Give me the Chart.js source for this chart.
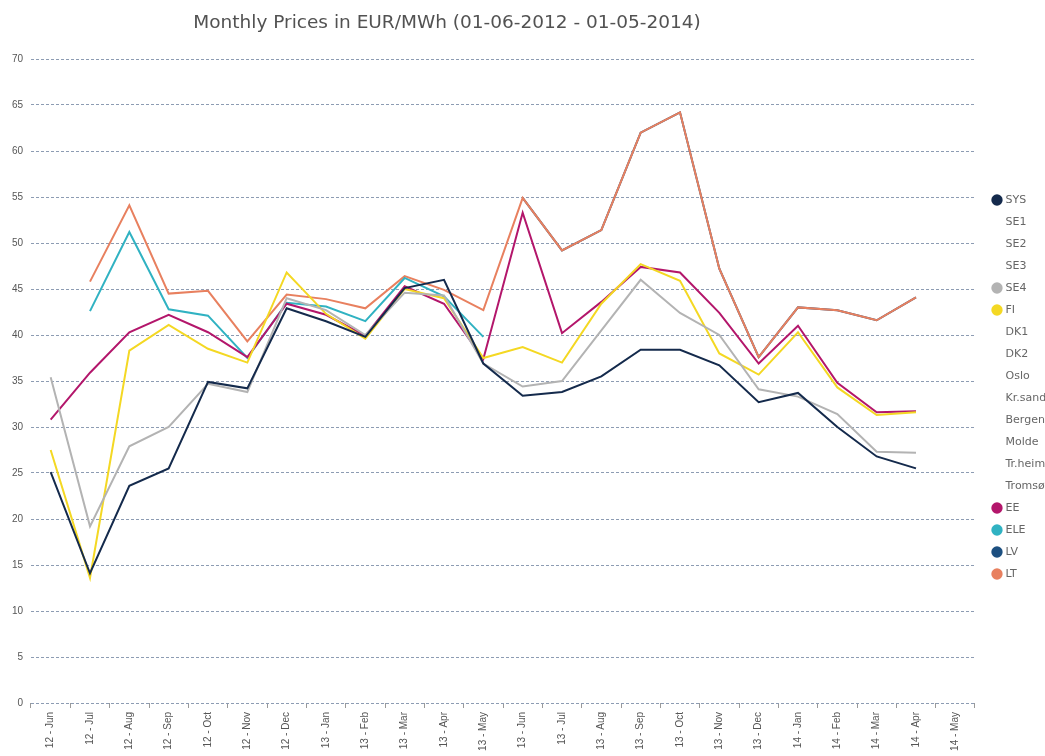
<!DOCTYPE html>
<html>
<head>
<meta charset="utf-8">
<script src="https://cdn.jsdelivr.net/npm/chart.js@4.4.1/dist/chart.umd.min.js"></script>
<style>
  html, body { margin: 0; padding: 0; overflow: hidden; background: #fff; }
</style>
</head>
<body>
<canvas id="prices" width="1045" height="756"></canvas>
<script>
const titleText = 'Monthly Prices in EUR/MWh (01-06-2012 - 01-05-2014)';

const months = ['12 - Jun', '12 - Jul', '12 - Aug', '12 - Sep', '12 - Oct', '12 - Nov', '12 - Dec',
  '13 - Jan', '13 - Feb', '13 - Mar', '13 - Apr', '13 - May', '13 - Jun', '13 - Jul', '13 - Aug',
  '13 - Sep', '13 - Oct', '13 - Nov', '13 - Dec', '14 - Jan', '14 - Feb', '14 - Mar', '14 - Apr', '14 - May'];

const yTicks = [0, 5, 10, 15, 20, 25, 30, 35, 40, 45, 50, 55, 60, 65, 70];

// monthly prices, EUR/MWh
const sys = [25.1, 14.1, 23.6, 25.5, 34.9, 34.2, 42.9, 41.5, 39.8, 45.1, 46.0, 36.9,
  33.4, 33.8, 35.5, 38.4, 38.4, 36.7, 32.7, 33.7, 30.0, 26.8, 25.5, null];
const se4 = [35.4, 19.2, 27.9, 30.0, 34.7, 33.8, 44.0, 42.7, 40.0, 44.6, 44.3, 36.9,
  34.4, 35.0, 40.5, 46.0, 42.4, 40.0, 34.1, 33.3, 31.4, 27.3, 27.2, null];
const fi = [27.5, 13.6, 38.3, 41.1, 38.5, 37.0, 46.8, 42.3, 39.6, 45.0, 44.0, 37.5,
  38.7, 37.0, 43.4, 47.7, 45.9, 38.0, 35.7, 40.3, 34.3, 31.3, 31.6, null];
const ee = [30.8, 35.9, 40.3, 42.2, 40.3, 37.6, 43.4, 42.2, 39.9, 45.3, 43.4, 37.4,
  53.3, 40.2, 43.6, 47.4, 46.8, 42.4, 36.9, 41.0, 34.8, 31.6, 31.7, null];
const ele = [null, 42.6, 51.2, 42.8, 42.1, 37.5, 43.5, 43.1, 41.5, 46.2, 44.2, 39.8,
  null, null, null, null, null, null, null, null, null, null, null, null];
const lv = [null, null, null, null, null, null, null, null, null, null, null, null,
  54.9, 49.2, 51.4, 62.0, 64.2, 47.2, 37.6, 43.0, 42.7, 41.6, 44.1, null];
const lt = [null, 45.8, 54.1, 44.5, 44.8, 39.3, 44.4, 43.9, 42.9, 46.4, 44.9, 42.7,
  54.9, 49.2, 51.4, 62.0, 64.2, 47.2, 37.6, 43.0, 42.7, 41.6, 44.1, null];

const areas = ['SYS', 'SE1', 'SE2', 'SE3', 'SE4', 'FI', 'DK1', 'DK2', 'Oslo', 'Kr.sand',
  'Bergen', 'Molde', 'Tr.heim', 'Tromsø', 'EE', 'ELE', 'LV', 'LT'];

const shown = {
  'SYS': { data: sys, color: '#142a4c' },
  'SE4': { data: se4, color: '#b3b3b3' },
  'FI': { data: fi, color: '#f4d823' },
  'EE': { data: ee, color: '#b3166b' },
  'ELE': { data: ele, color: '#30b2c2' },
  'LV': { data: lv, color: '#1c4f80', order: 1 },
  'LT': { data: lt, color: '#e8805f' }
};

const datasets = areas.map(name => {
  const s = shown[name];
  return {
    label: name,
    data: s ? s.data : [],
    borderColor: s ? s.color : 'rgba(0,0,0,0)',
    backgroundColor: s ? s.color : 'rgba(0,0,0,0)',
    borderWidth: 2,
    pointRadius: 0,
    pointHoverRadius: 0,
    tension: 0,
    spanGaps: false,
    order: s && s.order ? s.order : 0
  };
});

const pageTitle = {
  id: 'pageTitle',
  afterDraw(chart) {
    const ctx = chart.ctx;
    ctx.save();
    ctx.font = '18.5px "DejaVu Sans"';
    ctx.fillStyle = '#525252';
    ctx.textAlign = 'center';
    ctx.textBaseline = 'middle';
    ctx.fillText(titleText, 447, 23);
    ctx.restore();
  }
};

new Chart(document.getElementById('prices'), {
  type: 'line',
  data: { labels: months, datasets: datasets },
  plugins: [pageTitle],
  options: {
    responsive: false,
    animation: false,
    layout: { padding: { top: 59, left: 0, right: 0, bottom: 0 } },
    scales: {
      x: {
        offset: true,
        grid: { drawOnChartArea: false, drawTicks: true, tickLength: 5, tickColor: '#9a9a9a', offset: true },
        border: { display: false },
        ticks: {
          autoSkip: false, minRotation: 90, maxRotation: 90, padding: 4,
          color: '#555555', font: { family: 'Liberation Sans', size: 10 }
        },
        afterFit: s => { s.height = 53; }
      },
      y: {
        min: 0,
        max: 70,
        afterBuildTicks: s => { s.ticks = yTicks.map(v => ({ value: v })); },
        grid: { color: '#8d9cb3', lineWidth: 1, drawTicks: false },
        border: { display: false, dash: [3, 2] },
        ticks: { padding: 8, color: '#555555', font: { family: 'Liberation Sans', size: 10 } },
        afterFit: s => { s.width = 31; }
      },
      gap: {
        type: 'linear',
        position: 'right',
        display: true,
        grid: { display: false },
        border: { display: false },
        ticks: { display: false },
        afterFit: s => { s.width = 8; }
      }
    },
    plugins: {
      title: { display: false },
      tooltip: { enabled: false },
      legend: {
        position: 'right',
        align: 'start',
        maxWidth: 62,
        title: { display: true, text: '', font: { size: 10 }, padding: { top: 112.5, bottom: 0 } },
        labels: {
          usePointStyle: true,
          pointStyle: 'circle',
          boxWidth: 6,
          boxHeight: 8,
          padding: 11,
          color: '#444444',
          font: { family: 'DejaVu Sans', size: 11 },
          generateLabels: chart => chart.data.datasets.map((ds, i) => ({
            text: ds.label,
            fillStyle: ds.backgroundColor,
            strokeStyle: ds.borderColor,
            lineWidth: 0,
            pointStyle: 'circle',
            hidden: false,
            datasetIndex: i
          }))
        }
      }
    }
  }
});
</script>
</body>
</html>
